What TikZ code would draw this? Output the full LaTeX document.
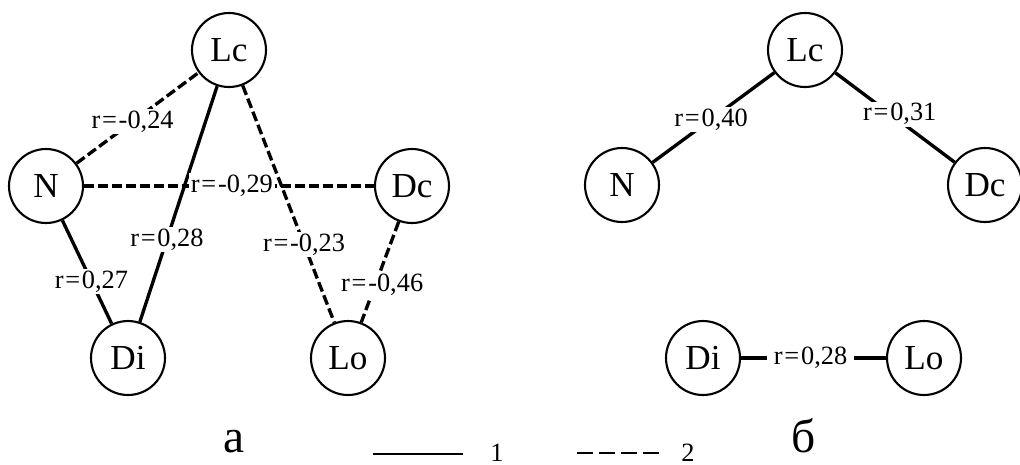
\documentclass[tikz,border=0pt]{standalone}
\usepackage{fontspec}
\setmainfont{Liberation Serif}
\usetikzlibrary{positioning}

\begin{document}
\begin{tikzpicture}[
  x=0.02cm, y=-0.02cm,
  trait/.style={draw, circle, line width=1.2pt, minimum size=1.48cm,
    inner sep=0pt, font=\fontsize{20}{24}\selectfont},
  poslink/.style={line width=1.9pt},
  neglink/.style={line width=1.9pt, dash pattern=on 5.7pt off 2.3pt},
  coef/.style={fill=white, inner xsep=2.5pt, inner ysep=1pt,
    font=\fontsize{15}{18}\selectfont},
  panel/.style={font=\fontsize{27}{30}\selectfont, anchor=base, inner sep=1pt},
  keytext/.style={font=\fontsize{15}{18}\selectfont, anchor=base}
]
\useasboundingbox (0,0) rectangle (1020,464);

% Panel a: traits
\node[trait] (aLc) at (229,50) {Lc};
\node[trait] (aN)  at (46,186) {N};
\node[trait] (aDc) at (412,186) {Dc};
\node[trait] (aDi) at (128,358) {Di};
\node[trait] (aLo) at (348,358) {Lo};

% Panel a: correlations
\draw[neglink] (aN) -- node[coef, pos=0.46] {r\kern1pt=\kern1pt-0,24} (aLc);
\draw[poslink] (aLc) -- node[coef, pos=0.65] {r\kern1pt=\kern1pt0,28} (aDi);
\draw[poslink] (aN) -- node[coef, pos=0.59] {r\kern1pt=\kern1pt0,27} (aDi);
\draw[neglink] (aN) -- node[coef, pos=0.51, inner xsep=1pt] {r\kern1pt=\kern1pt-0,29} (aDc);
\draw[neglink] (aLc) -- node[coef, pos=0.67] {r\kern1pt=\kern1pt-0,23} (aLo);
\draw[neglink] (aDc) -- node[coef, pos=0.63, xshift=4pt] {r\kern1pt=\kern1pt-0,46} (aLo);

% Panel b: traits
\node[trait] (bLc) at (805,50) {Lc};
\node[trait] (bN)  at (622,185) {N};
\node[trait] (bDc) at (985,185) {Dc};
\node[trait] (bDi) at (703,358) {Di};
\node[trait] (bLo) at (924,358) {Lo};

% Panel b: correlations
\draw[poslink] (bN) -- node[coef, pos=0.48] {r\kern1pt=\kern1pt0,40} (bLc);
\draw[poslink] (bLc) -- node[coef, pos=0.54, yshift=4pt] {r\kern1pt=\kern1pt0,31} (bDc);
\draw[poslink] (bDi) -- node[coef, pos=0.48, inner xsep=4pt] {r\kern1pt=\kern1pt0,28} (bLo);

% Panel letters
\node[panel] (pa) at (234,452) {а};
\node[panel] (pb) at (804,452) {б};

% Key
\coordinate (s1) at (373,454);
\coordinate (e1) at (463,454);
\node[keytext] (k1) at (497,461) {1};
\draw[line width=1.3pt] (s1) -- (e1);
\coordinate (s2) at (577,453);
\coordinate (e2) at (662,453);
\node[keytext] (k2) at (688,461) {2};
\draw[line width=1.3pt, dash pattern=on 9pt off 3.5pt] (s2) -- (e2);

\end{tikzpicture}
\end{document}
